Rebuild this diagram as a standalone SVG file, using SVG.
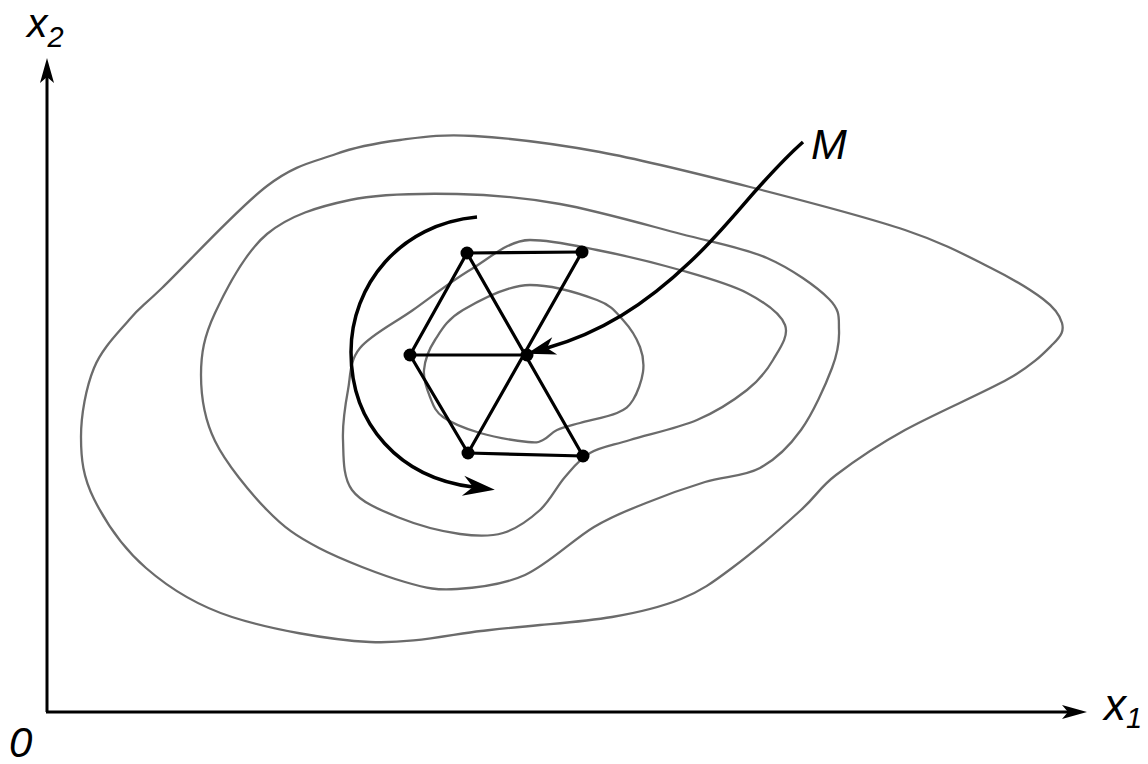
<svg xmlns="http://www.w3.org/2000/svg" width="1148" height="764" viewBox="0 0 1148 764">
<style>
.contour{fill:none;stroke:#6b6b6b;stroke-width:2.3}
.axis{fill:none;stroke:#000;stroke-width:3}
.arrow{fill:none;stroke:#000;stroke-width:3.5}
.edge{stroke:#000;stroke-width:3.2;stroke-linecap:round}
.dot{fill:#000}
.lbl{font-family:"Liberation Sans",Arial,sans-serif;font-style:italic;fill:#000}
</style>
<defs>
<marker id="axhead" markerUnits="userSpaceOnUse" orient="auto" refX="0" refY="0" markerWidth="40" markerHeight="40" overflow="visible">
<path d="M19,0 L-6,-7 L0,0 L-6,7 Z" fill="#000"/>
</marker>
<marker id="bighead" markerUnits="userSpaceOnUse" orient="auto" refX="0" refY="0" markerWidth="50" markerHeight="50" overflow="visible">
<path d="M22,0 L-10,-10 L0,0 L-10,10 Z" fill="#000"/>
</marker>
<marker id="mhead" markerUnits="userSpaceOnUse" orient="auto" refX="0" refY="0" markerWidth="50" markerHeight="50" overflow="visible">
<path d="M21,0 L-8,-9 L0,0 L-8,9 Z" fill="#000"/>
</marker>
</defs>
<rect width="1148" height="764" fill="#fff"/>
<g id="axes">
<path class="axis" d="M47,712 V77" marker-end="url(#axhead)"/>
<path class="axis" d="M46,712 H1068" marker-end="url(#axhead)"/>
</g>
<g id="contours">
<path id="contour-outer" class="contour" d="M474,136 C507,138 554,143.5 600,152 S699,174 750,187 S865,216.5 905,230 S968,256.5 991,268 S1031,290 1043,299 S1060,315.5 1062,323 S1062,335 1053,344 S1033,365 1008,379 S934,414 905,430 S853,462 836,475 S818,494.5 801,510 S752,553 732,568 S701,591 681,599 S635.5,613 612,617 S562,623 540,625 S509,628 481,631 S411.5,644 370,642 S269,629 232,617 S169,588 146,568 S105,521 94,499 S81,459 81,437 S86,387.5 94,368 S117.7,333.3 129,320 S139,310 162,288 S238,208 267,186 S314,162 336,154 S377,143 400,140 S441,134 474,136 Z"/>
<path id="contour-3" class="contour" d="M457,194 C492,194.7 522.7,197.3 560,204 S646.5,225 681,234 S742.3,247.2 767,258 S817,287 829,299 S838.5,318.5 839,330 S838.3,351.3 832,368 S813,413.3 801,430 S776,459.3 760,468 S724,476.2 705,482 S664.5,495.5 646,503 S614.2,515 594,527 S547.8,564.7 525,575 S477,587.8 457,589 S428,588.8 405,582 S342,560 319,548 S284.3,527.8 267,510 S226,463.5 215,441 S201,396.3 201,375 S204,336.5 215,313 S244.5,252.8 267,234 S318.3,206.7 350,200 S422,193.3 457,194 Z"/>
<path id="contour-2" class="contour" d="M530,240 C551,240 572,245 597,250 S655,262.8 680,270 S729.5,283.8 747,293 S780.7,313.8 785,325 S779.3,349.2 773,360 S759.7,380 747,390 S716.5,411.7 697,420 S647.8,434.5 630,440 S600.8,446.8 590,453 S573.3,467.5 565,477 S550.3,500.7 540,510 S516.3,529 503,533 S477.2,536.5 460,534 S418,525.3 400,518 S361.5,503 352,490 S343.7,456.7 343,440 S345.2,405.3 348,390 S349.2,361.3 360,348 S394.7,323 413,310 S450.5,281.7 470,270 S509,240 530,240 Z"/>
<path id="contour-inner" class="contour" d="M530,285 C552,285 581.5,294.2 597,300 S615.8,312.2 623,320 S636.7,338.3 640,347 S644.2,363.2 643,372 S637.3,393.2 633,400 S625.8,409.2 617,413 S590,420.2 580,423 S563.2,427.2 557,430 S547.8,438 543,440 S538.5,443.2 528,442 S494.2,437.2 480,433 S451.3,423 443,417 S433.2,404.8 430,397 S423.2,379.5 424,370 S428.5,350 435,340 S447.2,319.2 463,310 S508,285 530,285 Z"/>
</g>
<g id="connectors">
<line class="edge" x1="467" y1="253" x2="582" y2="252"/>
<line class="edge" x1="467" y1="253" x2="410" y2="355"/>
<line class="edge" x1="410" y1="355" x2="468" y2="453"/>
<line class="edge" x1="468" y1="453" x2="583" y2="456"/>
<line class="edge" x1="467" y1="253" x2="583" y2="456"/>
<line class="edge" x1="582" y1="252" x2="468" y2="453"/>
<line class="edge" x1="410" y1="355" x2="527" y2="355"/>
<path id="rotation-arrow" class="arrow" d="M477,217 C400,224 351,285 351,352 C351,425 400,478 473,487" marker-end="url(#bighead)"/>
<path id="m-arrow" class="arrow" d="M803,142 C760,180 730,225 690,262 C645,305 600,333 547,348" marker-end="url(#mhead)"/>
</g>
<g id="node-tl"><circle class="dot" cx="467" cy="253" r="6.5"/></g>
<g id="node-tr"><circle class="dot" cx="582" cy="252" r="6.5"/></g>
<g id="node-l"><circle class="dot" cx="410" cy="355" r="6.5"/></g>
<g id="node-c"><circle class="dot" cx="527" cy="355" r="6.5"/></g>
<g id="node-bl"><circle class="dot" cx="468" cy="453" r="6.5"/></g>
<g id="node-br"><circle class="dot" cx="583" cy="456" r="6.5"/></g>
<g id="labels">
<text class="lbl" x="27" y="37" font-size="41">x<tspan font-size="29" dy="10">2</tspan></text>
<text class="lbl" x="1104" y="720" font-size="44">x<tspan font-size="29" dy="8">1</tspan></text>
<text class="lbl" x="9" y="757" font-size="42">0</text>
<text class="lbl" x="811" y="159" font-size="43">M</text>
</g>
</svg>
